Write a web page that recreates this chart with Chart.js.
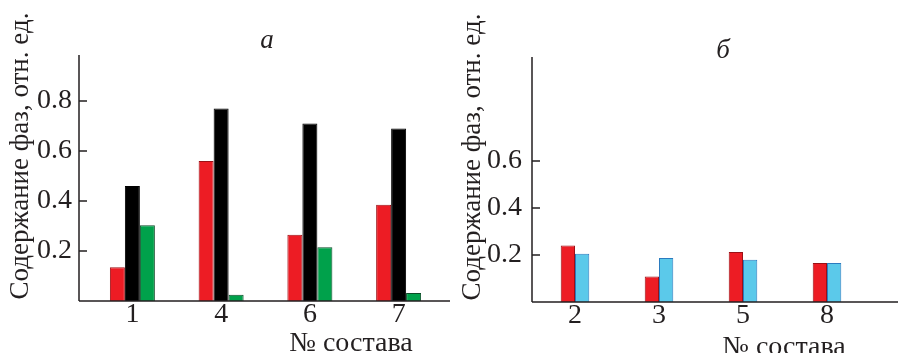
<!DOCTYPE html>
<html>
<head>
<meta charset="utf-8">
<script src="https://cdn.jsdelivr.net/npm/chart.js@4.4.0/dist/chart.umd.min.js"></script>
<style>
  body { margin: 0; background: #fff; width: 898px; height: 353px; position: relative; overflow: hidden; }
  .panel { position: absolute; top: 0; height: 353px; }
</style>
</head>
<body>
<div class="panel" style="left:0;width:450px"><canvas id="chart-a"></canvas></div>
<div class="panel" style="left:450px;width:448px"><canvas id="chart-b"></canvas></div>
<script>
// panel a
const catsA = ["1", "4", "6", "7"];
const redA = [0.135, 0.56, 0.265, 0.385];
const blackA = [0.46, 0.77, 0.71, 0.69];
const greenA = [0.303, 0.025, 0.215, 0.032];
const ticksA = [0.2, 0.4, 0.6, 0.8];

// panel b
const catsB = ["2", "3", "5", "8"];
const redB = [0.24, 0.109, 0.213, 0.166];
const blueB = [0.205, 0.187, 0.18, 0.166];
const ticksB = [0.2, 0.4, 0.6];

const yTitle = "Содержание фаз, отн. ед.";
const xTitle = "№ состава";
const ink = "#231f20";
const serif = "'Liberation Serif', 'DejaVu Serif', serif";

Chart.defaults.font.family = serif;
Chart.defaults.color = ink;

// axis lines, inward ticks and the titles
const decor = {
  id: "decor",
  afterDraw(chart, args, o) {
    const ctx = chart.ctx;
    const ca = chart.chartArea;
    const y = chart.scales.y;
    ctx.save();
    ctx.strokeStyle = ink;
    ctx.lineWidth = 1.5;
    ctx.beginPath();
    ctx.moveTo(o.axisX, ca.top);
    ctx.lineTo(o.axisX, ca.bottom);
    ctx.moveTo(o.axisX, ca.bottom);
    ctx.lineTo(chart.width, ca.bottom);
    y.ticks.forEach(t => {
      const py = y.getPixelForValue(t.value);
      ctx.moveTo(o.axisX, py);
      ctx.lineTo(o.axisX + 8, py);
    });
    ctx.stroke();

    ctx.fillStyle = ink;
    ctx.font = "italic 27px " + serif;
    ctx.textAlign = "center";
    ctx.textBaseline = "alphabetic";
    ctx.fillText(o.letter, o.letterX, o.letterY);

    ctx.font = "28px " + serif;
    ctx.fillText(xTitle, o.xTitleX, o.xTitleY);

    ctx.font = "27px " + serif;
    ctx.translate(o.yTitleX, o.yTitleY);
    ctx.rotate(-Math.PI / 2);
    ctx.textBaseline = "middle";
    ctx.fillText(yTitle, 0, 0);
    ctx.restore();
  }
};

function panel(id, cats, datasets, ticks, yMax, lay) {
  return new Chart(document.getElementById(id), {
    type: "bar",
    data: { labels: cats, datasets: datasets },
    plugins: [decor],
    options: {
      responsive: true,
      maintainAspectRatio: false,
      animation: false,
      layout: { padding: { top: lay.top, right: lay.right, bottom: 0, left: 0 } },
      datasets: { bar: { categoryPercentage: lay.catPct, barPercentage: 1, borderWidth: 1 } },
      plugins: {
        legend: { display: false },
        tooltip: { enabled: false },
        decor: lay.decor
      },
      scales: {
        x: {
          grid: { display: false },
          border: { display: false },
          ticks: { font: { size: 28 }, padding: -11, color: ink },
          afterFit: s => { s.height = lay.xHeight; }
        },
        y: {
          min: 0,
          max: yMax,
          grid: { display: false, drawTicks: false },
          border: { display: false },
          afterBuildTicks: s => { s.ticks = ticks.map(v => ({ value: v })); },
          ticks: { font: { size: 28 }, padding: lay.yPad, color: ink, callback: v => v.toFixed(1) },
          afterFit: s => { s.width = lay.yWidth; }
        }
      }
    }
  });
}

panel("chart-a", catsA, [
  { data: redA, backgroundColor: "#ed1c24", borderColor: "#9b1116" },
  { data: blackA, backgroundColor: "#000000", borderColor: "#000000" },
  { data: greenA, backgroundColor: "#00a14b", borderColor: "#0c4a27" }
], ticksA, 0.984, {
  top: 55, right: 7, xHeight: 52, yWidth: 88, yPad: 16, catPct: 0.507,
  decor: { axisX: 79, letter: "а", letterX: 267, letterY: 48,
           xTitleX: 351, xTitleY: 351, yTitleX: 21, yTitleY: 156 }
});

panel("chart-b", catsB, [
  { data: redB, backgroundColor: "#ed1c24", borderColor: "#9b1116" },
  { data: blueB, backgroundColor: "#5bc9ea", borderColor: "#2b7bbf" }
], ticksB, 1.043, {
  top: 57, right: 29, xHeight: 51, yWidth: 83, yPad: 11, catPct: 0.34,
  decor: { axisX: 82, letter: "б", letterX: 273, letterY: 58,
           xTitleX: 334, xTitleY: 355, yTitleX: 23, yTitleY: 157 }
});
</script>
</body>
</html>
